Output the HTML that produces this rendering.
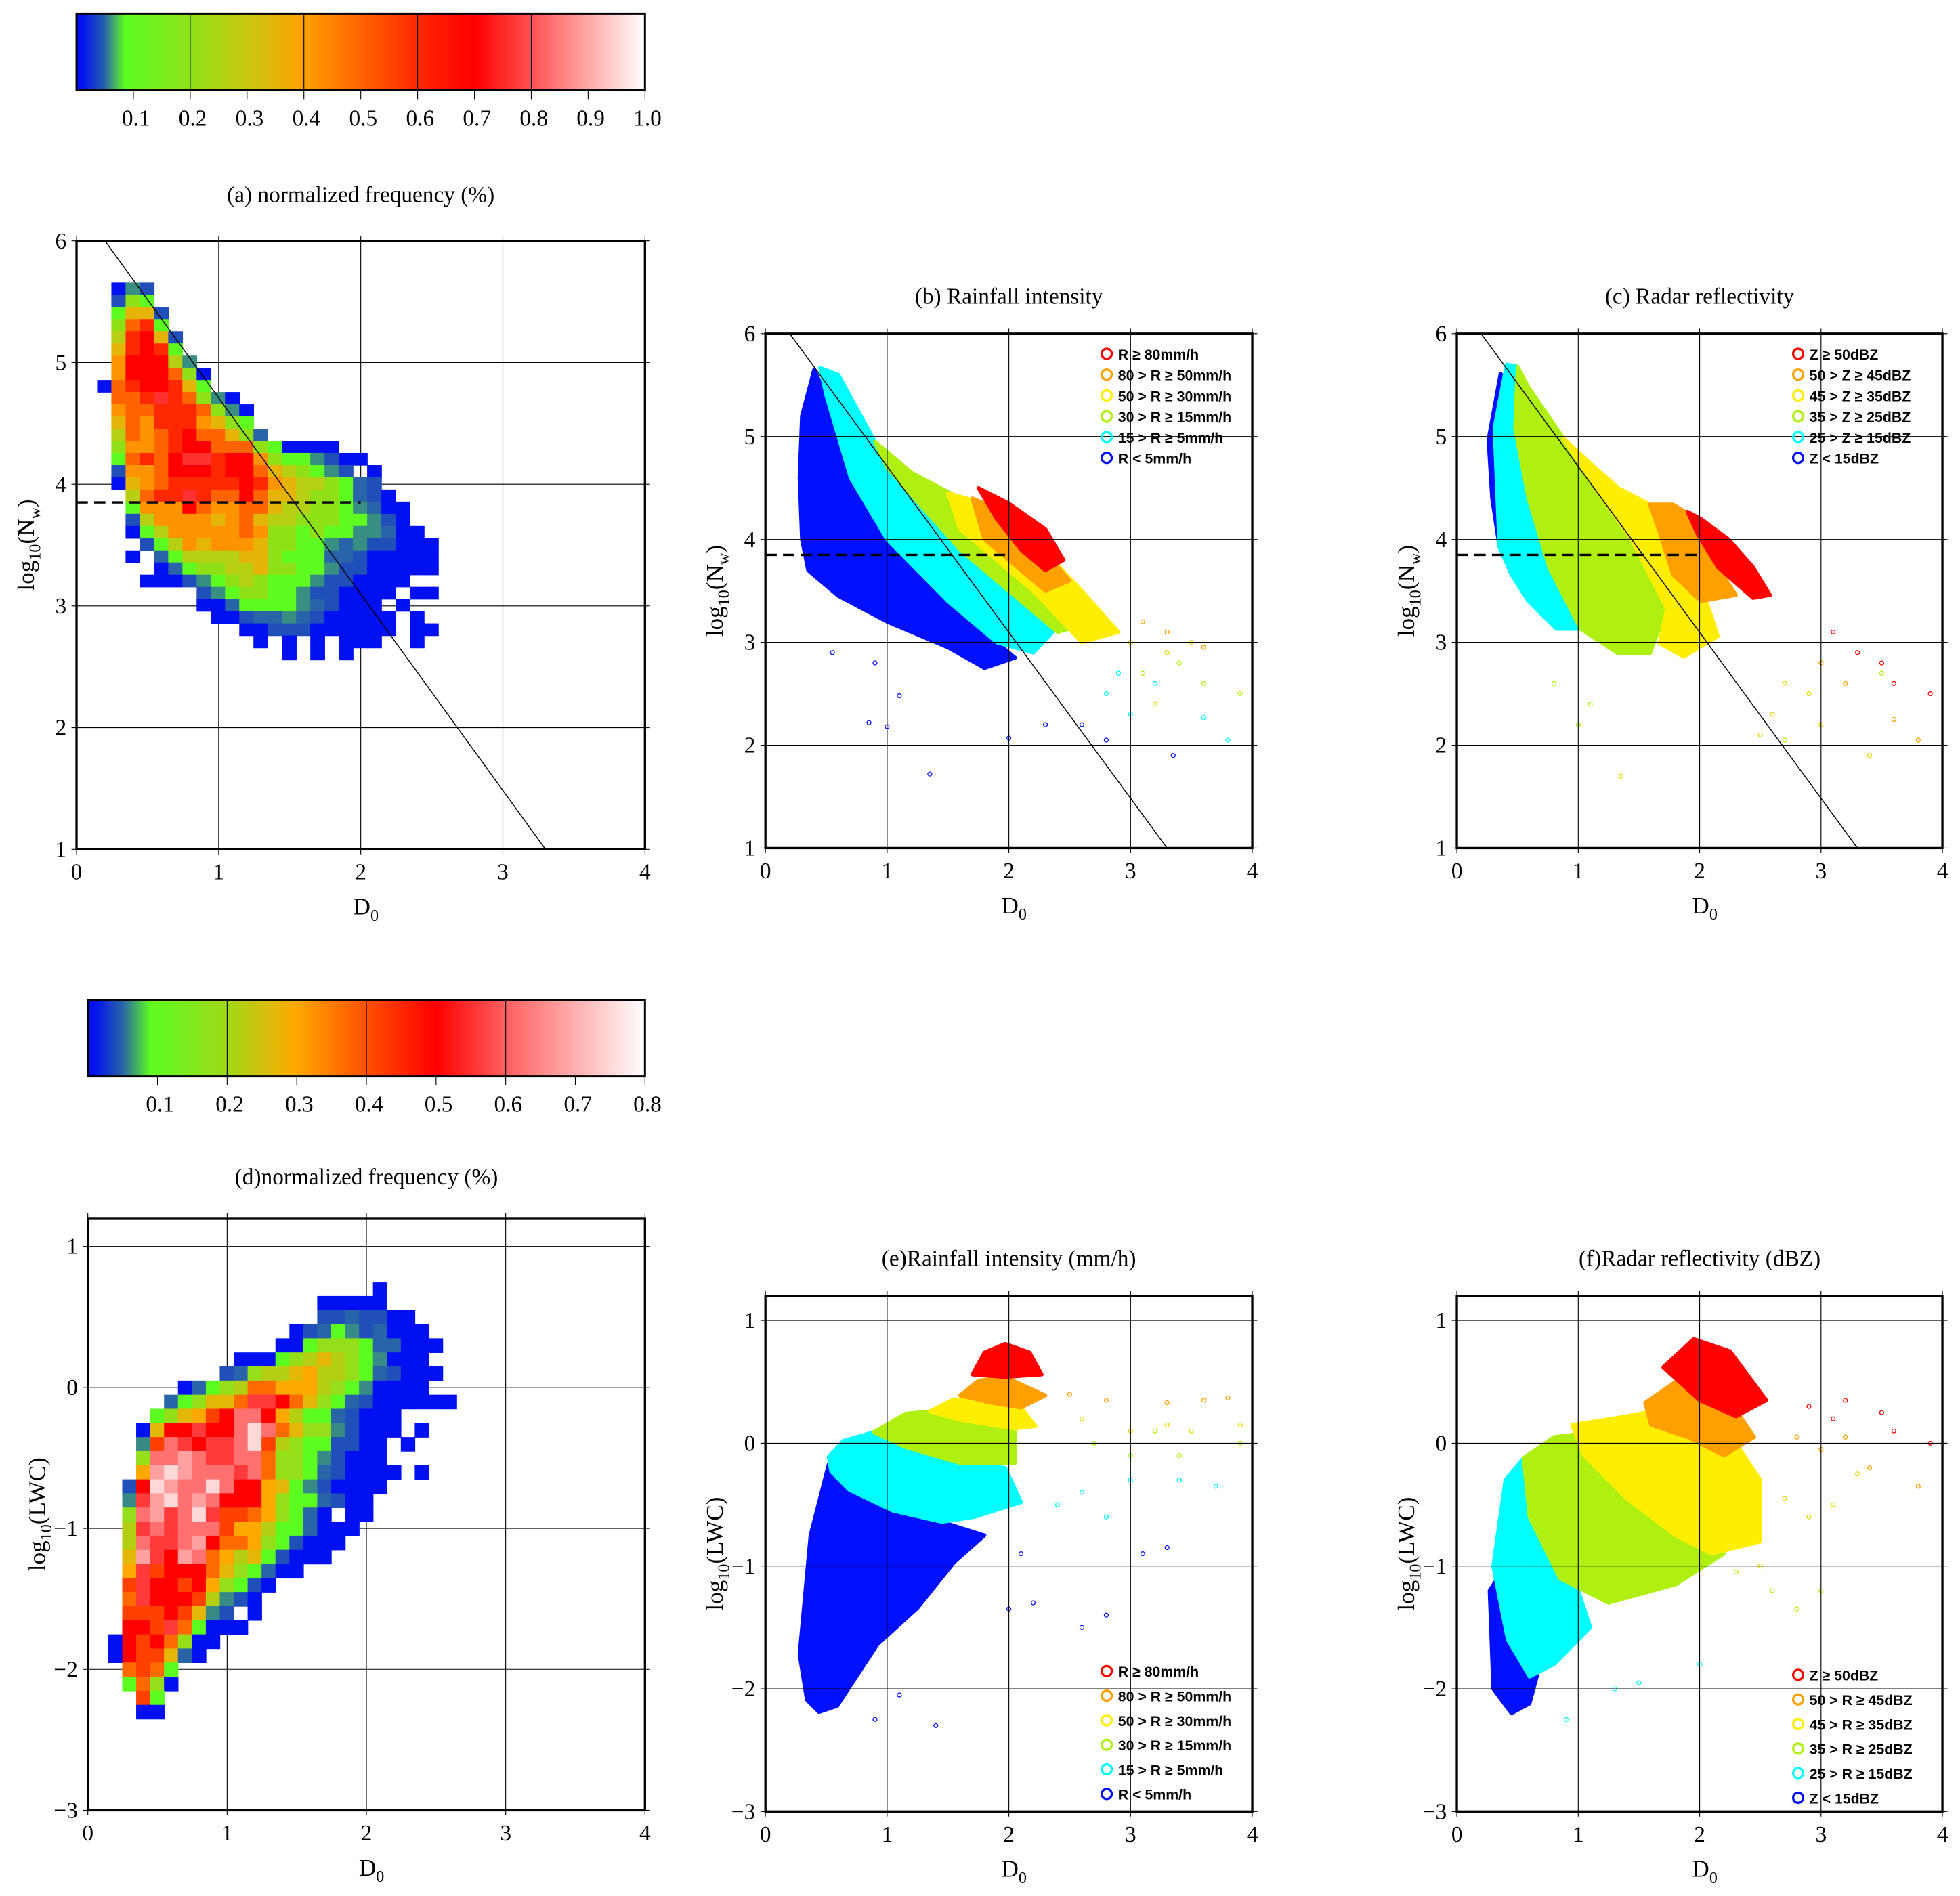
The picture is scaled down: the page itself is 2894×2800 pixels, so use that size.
<!DOCTYPE html>
<html><head><meta charset="utf-8">
<style>
html,body{margin:0;padding:0;background:#fff;}
svg{display:block;}
text{font-family:"Liberation Serif",serif;fill:#000;}
.leg{font-family:"Liberation Sans",sans-serif;font-weight:bold;font-size:11.5px;}
</style></head>
<body>
<svg id="fig" xmlns="http://www.w3.org/2000/svg" width="2894" height="2800" viewBox="0 0 1562 1511.3" preserveAspectRatio="none">
<defs>
<linearGradient id="cb1" x1="0" x2="1" y1="0" y2="0"></linearGradient>
<linearGradient id="cb2" x1="0" x2="1" y1="0" y2="0"></linearGradient>
</defs>
</svg>
<script>
// ---------- data ----------
const cb1Stops = [0.01,0.05,0.085,0.2,0.3,0.4,0.6,0.7,0.8,1.0];
const cb1Colors = ['#0010f0','#2a64a8','#5cfc20','#90e018','#c8c810','#ffa000','#ff2800','#ff0000','#ff5050','#ffffff'];
const cb2Stops = [0.01,0.05,0.09,0.2,0.3,0.4,0.5,0.6,0.8];
const cb2Colors = ['#0010f0','#2a64a8','#5cfc20','#a0d818','#ffa800','#ff5000','#ff0000','#ff6060','#ffffff'];
const cb1Ticks = [0.1,0.2,0.3,0.4,0.5,0.6,0.7,0.8,0.9,1.0];
const cb2Ticks = [0.1,0.2,0.3,0.4,0.5,0.6,0.7,0.8];
const xTicks = [0,1,2,3,4];
const nwTicks = [1,2,3,4,5,6];
const lwcTicks = [-3,-2,-1,0,1];

// heatmap (a): codes per cell, rows from log10(Nw)=5.657 downward, columns from D0=0.145
const aCodes = '123456789abcd';
const aValues = [0.01,0.04,0.05,0.06,0.09,0.2,0.27,0.35,0.42,0.5,0.6,0.7,0.76];
const aRows = [
" 142"," 265"," 5882"," 6ab5"," 7bc82"," 8bcb5"," 9ccc74"," 9ccca61","1abccb85",
" aabdba641"," 9aabbba641"," 8a9bbb9865"," 7a9abcaa863"," 699abccaaa651111",
" 5abacddbcc96554211"," 299acccbcca876542 1"," 189abbbbbcb98776532",
"  7abbdbaaca887665321","  5999ca99aa8776654311","  27999989a87766655421",
"  15799999a966565544311","   257989998665543422111","  1 35777788655533211111",
"    13566778665542211111","   1112456765554221111","       24566554221111 11",
"       1135555432111 1","        1123343211111 1","          11222111111 11",
"           1 1 1 111  1","             1 1 1"];
// heatmap (d): rows from log10(LWC)=0.748 downward, columns from D0=0.147
const dCodes = '123456789abcdefg';
const dValues = [0.01,0.04,0.05,0.06,0.09,0.18,0.22,0.27,0.3,0.37,0.42,0.5,0.56,0.62,0.68,0.75];
const dRows = [
"                   1","               11111","               2232211","             1235423111",
"            115666533111","         11156787654111","        2367789776532111",
"     13567aa99976541111","    35688addca86532111111","   5689bceec975532111",
"  18ccdccegea86642111 1","  4bedcddegb76552211 1","  6eefeddeea66542111",
"  9fgfeeedea665321111 1"," 2cgfeegecc985421111"," 4dfgefeccc96553211",
" 6efdegdbba96531 11"," 7dedeeeb997553111"," 7eddefcaa9652111"," 8fdcfea97852111",
" 9dbccca865311"," bdccbc96521"," adcccb7421"," bbbcb842 1"," ccbda5111","1cbca611",
"1cbb831"," aba5"," 5a61","  b5","  11"];

// scatter class colours
const classColors = ['#0010ff','#00ffff','#b0f010','#ffee00','#ffa000','#ff0000'];
// panel (b) class regions [D0, log10Nw]
const bBlue = [[0.4,5.65],[0.3,5.2],[0.28,4.6],[0.3,4.0],[0.35,3.7],[0.6,3.45],[1.0,3.2],[1.5,2.95],[1.8,2.75],[2.05,2.85],[1.8,3.1],[1.4,3.6],[1.0,4.0],[0.7,4.6],[0.5,5.4]];
const bCyan = [[0.45,5.67],[0.6,5.6],[0.9,4.95],[1.3,4.4],[1.7,3.9],[2.1,3.5],[2.4,3.15],[2.2,2.9],[1.9,3.0],[1.5,3.4],[1.0,4.0],[0.7,4.6],[0.5,5.4]];
const bGreen = [[0.9,4.95],[1.2,4.65],[1.6,4.4],[1.9,4.1],[2.3,3.7],[2.7,3.2],[2.4,3.1],[2.0,3.5],[1.6,3.9],[1.3,4.3],[1.0,4.7]];
const bYellow = [[1.5,4.45],[1.8,4.35],[2.2,4.0],[2.6,3.5],[2.9,3.1],[2.6,3.0],[2.2,3.5],[1.9,3.8],[1.6,4.1]];
const bOrange = [[1.7,4.4],[1.9,4.3],[2.2,4.0],[2.5,3.6],[2.3,3.5],[2.0,3.8],[1.8,4.0]];
const bRed = [[1.75,4.5],[2.0,4.35],[2.3,4.1],[2.45,3.8],[2.3,3.7],[2.1,3.9],[1.9,4.2]];
const bOutBlue = [[1.35,1.72],[1.0,2.18],[0.85,2.22],[2.0,2.07],[1.1,2.48],[2.3,2.2],[3.35,1.9],[0.55,2.9],[0.9,2.8],[2.6,2.2],[2.8,2.05]];
const bOutCyan = [[2.8,2.5],[3.2,2.6],[3.6,2.27],[3.8,2.05],[2.9,2.7],[3.0,2.3]];
const bOutGreen = [[3.9,2.5],[3.6,2.6],[3.4,2.8],[3.1,2.7]];
const bOutYellow = [[3.0,3.0],[3.3,2.9],[3.2,2.4],[3.5,3.0]];
const bOutOrange = [[3.6,2.95],[3.3,3.1],[3.1,3.2]];
// panel (c)
const cBlue = [[0.36,5.61],[0.26,4.97],[0.29,4.4],[0.35,3.93],[0.45,3.66],[0.59,3.66],[0.53,4.07],[0.42,4.74],[0.39,5.58]];
const cCyan = [[0.41,5.7],[0.5,5.68],[0.48,5.08],[0.59,4.4],[0.76,3.73],[1.02,3.13],[0.82,3.13],[0.59,3.4],[0.45,3.66],[0.35,3.93],[0.31,5.08]];
const cGreen = [[0.5,5.68],[0.59,5.48],[0.88,4.98],[1.16,4.47],[1.44,4.0],[1.73,3.33],[1.59,2.89],[1.33,2.89],[1.02,3.13],[0.76,3.73],[0.59,4.4],[0.48,5.08]];
const cYellow = [[0.88,4.98],[1.1,4.74],[1.33,4.5],[1.59,4.34],[1.73,4.07],[2.01,3.56],[2.15,3.06],[1.87,2.86],[1.67,2.99],[1.73,3.33],[1.44,4.0],[1.16,4.47]];
const cOrange = [[1.59,4.34],[1.78,4.34],[1.98,4.2],[2.15,3.73],[2.3,3.46],[2.01,3.4],[1.78,3.66],[1.67,4.07]];
const cRed = [[1.9,4.27],[2.01,4.2],[2.24,4.0],[2.44,3.73],[2.58,3.46],[2.44,3.43],[2.15,3.73],[1.98,4.06]];
const cOutYellow = [[2.9,2.5],[3.0,2.2],[2.6,2.3],[2.7,2.6],[3.4,1.9],[2.5,2.1],[1.35,1.7]];
const cOutGreen = [[1.0,2.2],[0.8,2.6],[1.1,2.4],[2.7,2.05],[3.5,2.7]];
const cOutRed = [[3.3,2.9],[3.6,2.6],[3.9,2.5],[3.1,3.1],[3.5,2.8]];
const cOutOrange = [[3.8,2.05],[3.6,2.25],[3.2,2.6],[3.0,2.8]];
// panel (e) [D0, log10LWC]
const eBlue = [[0.52,-0.17],[0.37,-0.75],[0.28,-1.72],[0.34,-2.09],[0.44,-2.19],[0.59,-2.14],[0.92,-1.64],[1.25,-1.34],[1.55,-0.97],[1.8,-0.75],[1.45,-0.64],[1.05,-0.55],[0.69,-0.38]];
const eCyan = [[0.52,-0.11],[0.64,0.02],[0.89,0.09],[1.15,-0.03],[1.6,-0.16],[1.97,-0.2],[2.1,-0.48],[1.72,-0.6],[1.45,-0.64],[1.05,-0.55],[0.69,-0.38],[0.54,-0.23]];
const eGreen = [[0.89,0.09],[1.15,0.24],[1.35,0.26],[1.6,0.19],[2.05,0.12],[2.05,-0.16],[1.6,-0.16],[1.15,-0.03]];
const eYellow = [[1.35,0.26],[1.55,0.36],[1.85,0.34],[2.1,0.29],[2.22,0.14],[2.05,0.12],[1.6,0.19]];
const eOrange = [[1.6,0.39],[1.75,0.51],[1.97,0.54],[2.3,0.39],[2.1,0.29],[1.85,0.33]];
const eRed = [[1.7,0.56],[1.8,0.74],[1.97,0.81],[2.17,0.74],[2.27,0.56],[1.97,0.54]];
const eOutBlue = [[2.1,-0.9],[2.0,-1.35],[2.2,-1.3],[2.6,-1.5],[1.4,-2.3],[3.1,-0.9],[2.8,-1.4],[3.3,-0.85],[1.1,-2.05],[0.9,-2.25]];
const eOutCyan = [[2.4,-0.5],[2.6,-0.4],[3.0,-0.3],[3.4,-0.3],[3.7,-0.35],[2.8,-0.6]];
const eOutGreen = [[2.7,0.0],[3.0,-0.1],[3.4,-0.1],[3.9,0.0],[3.2,0.1]];
const eOutYellow = [[2.6,0.2],[3.0,0.1],[3.5,0.1],[3.9,0.15],[3.3,0.15]];
const eOutOrange = [[2.8,0.35],[3.3,0.33],[3.6,0.35],[3.8,0.37],[2.5,0.4]];
// panel (f)
const fBlue = [[0.27,-1.2],[0.4,-1.0],[0.55,-1.3],[0.7,-1.75],[0.6,-2.12],[0.45,-2.2],[0.3,-2.0]];
const fCyan = [[0.4,-0.3],[0.55,-0.12],[0.7,-0.6],[1.0,-1.2],[1.1,-1.5],[0.8,-1.8],[0.6,-1.9],[0.42,-1.6],[0.3,-1.0]];
const fGreen = [[0.55,-0.12],[0.8,0.05],[1.2,0.1],[1.6,0.0],[2.0,-0.4],[2.2,-0.9],[1.8,-1.15],[1.25,-1.3],[0.85,-1.1],[0.6,-0.6]];
const fYellow = [[0.95,0.15],[1.4,0.22],[1.8,0.3],[2.2,0.15],[2.5,-0.3],[2.5,-0.8],[2.1,-0.9],[1.8,-0.75],[1.4,-0.45],[1.05,-0.1]];
const fOrange = [[1.55,0.33],[1.8,0.5],[2.2,0.42],[2.45,0.05],[2.2,-0.1],[1.9,0.05],[1.6,0.15]];
const fRed = [[1.7,0.62],[1.95,0.85],[2.25,0.75],[2.55,0.35],[2.3,0.22],[2.0,0.35]];
const fOutRed = [[2.9,0.3],[3.2,0.35],[3.5,0.25],[3.9,0.0],[3.1,0.2],[3.6,0.1]];
const fOutOrange = [[2.8,0.05],[3.0,-0.05],[3.4,-0.2],[3.8,-0.35],[3.2,0.05]];
const fOutYellow = [[2.7,-0.45],[2.9,-0.6],[3.1,-0.5],[2.5,-1.0],[3.3,-0.25]];
const fOutGreen = [[2.6,-1.2],[2.8,-1.35],[3.0,-1.2],[2.3,-1.05]];
const fOutCyan = [[1.3,-2.0],[1.5,-1.95],[2.0,-1.8],[0.9,-2.25]];

const legendR = ['R ≥ 80mm/h','80 > R ≥ 50mm/h','50 > R ≥ 30mm/h','30 > R ≥ 15mm/h','15 > R ≥ 5mm/h','R < 5mm/h'];
const legendZ = ['Z ≥ 50dBZ','50 > Z ≥ 45dBZ','45 > Z ≥ 35dBZ','35 > Z ≥ 25dBZ','25 > Z ≥ 15dBZ','Z < 15dBZ'];
const legendF = ['Z ≥ 50dBZ','50 > R ≥ 45dBZ','45 > R ≥ 35dBZ','35 > R ≥ 25dBZ','25 > R ≥ 15dBZ','Z < 15dBZ'];
const legendColors = ['#ff0000','#ffa000','#ffee00','#b0f010','#00ffff','#0010ff'];

// ---------- helpers ----------
const NS = 'http://www.w3.org/2000/svg';
const svg = document.getElementById('fig');
function mk(tag, attrs, parent) {
  const e = document.createElementNS(NS, tag);
  for (const k in attrs) e.setAttribute(k, attrs[k]);
  (parent || svg).appendChild(e);
  return e;
}
function hex(c){return [parseInt(c.substr(1,2),16),parseInt(c.substr(3,2),16),parseInt(c.substr(5,2),16)];}
function cmap(v, stops, cols) {
  if (v <= stops[0]) return cols[0];
  for (let i = 1; i < stops.length; i++) {
    if (v <= stops[i]) {
      const t = (v - stops[i-1]) / (stops[i] - stops[i-1]);
      const a = hex(cols[i-1]), b = hex(cols[i]);
      return 'rgb(' + a.map((x,j)=>Math.round(x+(b[j]-x)*t)).join(',') + ')';
    }
  }
  return cols[cols.length-1];
}
function makeAxis(P) {
  P.sx = v => P.x0 + (v - P.xmin) / (P.xmax - P.xmin) * (P.x1 - P.x0);
  P.sy = v => P.yb - (v - P.ymin) / (P.ymax - P.ymin) * (P.yb - P.yt);
  return P;
}
function fmt(v){return v < 0 ? '\u2212' + (-v) : String(v);}

// ---------- colorbars ----------
function colorbar(id, gradId, stops, cols, vmin, vmax, x0, x1, y0, y1, ticks, dividers) {
  const g = mk('g', {});
  
  
  const grad = document.getElementById(gradId);
  stops.forEach((s, i) => {
    const st = mk('stop', {offset: ((s - vmin) / (vmax - vmin)).toFixed(4), 'stop-color': cols[i]}, grad);
    
    
  });
  const sx = v => x0 + (v - vmin) / (vmax - vmin) * (x1 - x0);
  const r = mk('rect', {x: x0, y: y0, width: x1 - x0, height: y1 - y0, fill: 'url(#' + gradId + ')'}, g);
  
  
  dividers.forEach(d => {
    const l = mk('line', {x1: sx(d), x2: sx(d), y1: y0, y2: y1, stroke: '#000', 'stroke-width': 0.6}, g);
    
    
  });
  const fr = mk('rect', {x: x0, y: y0, width: x1 - x0, height: y1 - y0, fill: 'none', stroke: '#000', 'stroke-width': 1.6}, g);
  
  
  ticks.forEach(t => {
    const l = mk('line', {x1: sx(t), x2: sx(t), y1: y1, y2: y1 + 7, stroke: '#000', 'stroke-width': 0.6}, g);
    
    
    const tx = mk('text', {x: sx(t) + 2, y: y1 + 28, 'text-anchor': 'middle', 'font-size': 18}, g);
    tx.textContent = t.toFixed(1);
    
    
  });
}
colorbar('colorbar-top', 'cb1', cb1Stops, cb1Colors, 0, 1.0, 61, 514, 11, 72, cb1Ticks, [0.2,0.4,0.6,0.8]);
colorbar('colorbar-bottom', 'cb2', cb2Stops, cb2Colors, 0, 0.8, 70, 514, 797, 858, cb2Ticks, [0.2,0.4,0.6]);

// ---------- panels ----------
const panels = {
  a: makeAxis({x0:61, x1:514, yt:192, yb:677, xmin:0, xmax:4, ymin:1, ymax:6}),
  b: makeAxis({x0:610, x1:998, yt:266, yb:676, xmin:0, xmax:4, ymin:1, ymax:6}),
  c: makeAxis({x0:1161, x1:1548, yt:266, yb:676, xmin:0, xmax:4, ymin:1, ymax:6}),
  d: makeAxis({x0:70, x1:514, yt:971, yb:1443, xmin:0, xmax:4, ymin:-3, ymax:1.2}),
  e: makeAxis({x0:610, x1:998, yt:1033, yb:1444, xmin:0, xmax:4, ymin:-3, ymax:1.2}),
  f: makeAxis({x0:1161, x1:1548, yt:1033, yb:1444, xmin:0, xmax:4, ymin:-3, ymax:1.2})
};

function heatmap(P, name, rows, codes, values, xStart, yTop, stops, cols) {
  const g = mk('g', {});
  
  
  rows.forEach((row, r) => {
    for (let c = 0; c < row.length; c++) {
      const k = codes.indexOf(row[c]);
      if (k < 0) continue;
      const xa = P.sx(xStart + c * 0.1), xb = P.sx(xStart + (c + 1) * 0.1);
      const ya = P.sy(yTop - r * 0.1), yb = P.sy(yTop - (r + 1) * 0.1);
      const cell = mk('rect', {x: xa.toFixed(2), y: ya.toFixed(2), width: (xb - xa + 0.4).toFixed(2), height: (yb - ya + 0.4).toFixed(2), fill: cmap(values[k], stops, cols)}, g);
      
      
    }
  });
}

function region(P, pts, color, name) {
  const d = pts.map((p, i) => (i ? 'L' : 'M') + P.sx(p[0]).toFixed(1) + ',' + P.sy(p[1]).toFixed(1)).join(' ') + 'Z';
  const e = mk('path', {d: d, fill: color, stroke: color, 'stroke-width': 3, 'stroke-linejoin': 'round'});
  
  
}
function points(P, pts, color, name) {
  pts.forEach(p => {
    const e = mk('circle', {cx: P.sx(p[0]).toFixed(1), cy: P.sy(p[1]).toFixed(1), r: 1.6, fill: 'none', stroke: color, 'stroke-width': 0.7});
    
    
  });
}

function grid(P, name, yTicks) {
  const g = mk('g', {});
  
  
  xTicks.forEach(t => {
    const l = mk('line', {x1: P.sx(t), x2: P.sx(t), y1: P.yt - 4, y2: P.yb + 4, stroke: '#000', 'stroke-width': 0.6}, g);
    
    
  });
  yTicks.forEach(t => {
    const l = mk('line', {x1: P.x0 - 4, x2: P.x1 + 4, y1: P.sy(t), y2: P.sy(t), stroke: '#000', 'stroke-width': 0.6}, g);
    
    
  });
}
function frameAndLabels(P, name, yTicks, title, titleY, ylab, ysub) {
  const fr = mk('rect', {x: P.x0, y: P.yt, width: P.x1 - P.x0, height: P.yb - P.yt, fill: 'none', stroke: '#000', 'stroke-width': 1.8});
  
  
  xTicks.forEach(t => {
    const tx = mk('text', {x: P.sx(t), y: P.yb + 24, 'text-anchor': 'middle', 'font-size': 18});
    tx.textContent = fmt(t);
    
    
  });
  yTicks.forEach(t => {
    const tx = mk('text', {x: P.x0 - 8, y: P.sy(t) + 6, 'text-anchor': 'end', 'font-size': 18});
    tx.textContent = fmt(t);
    
    
  });
  const cx = (P.x0 + P.x1) / 2;
  const xl = mk('text', {x: cx - 6, y: P.yb + 52, 'font-size': 19});
  xl.innerHTML = 'D<tspan font-size="13" dy="5">0</tspan>';
  
  
  const cy = (P.yt + P.yb) / 2;
  const yl = mk('text', {x: 0, y: 0, 'text-anchor': 'middle', 'font-size': 19, transform: 'translate(' + (P.x0 - 34) + ',' + cy + ') rotate(-90)'});
  yl.innerHTML = 'log<tspan font-size="13" dy="5">10</tspan><tspan dy="-5">(' + ylab + '</tspan>' + (ysub ? '<tspan font-size="13" dy="5">' + ysub + '</tspan><tspan dy="-5">)</tspan>' : ')');
  
  
  const tt = mk('text', {x: cx, y: titleY, 'text-anchor': 'middle', 'font-size': 18});
  tt.textContent = title;
  
  
}
function refLines(P, dashed) {
  const l = mk('line', {x1: P.sx(0.2), y1: P.sy(6), x2: P.sx(3.3), y2: P.sy(1), stroke: '#000', 'stroke-width': 0.8});
  
  
  if (dashed) {
    const d = mk('line', {x1: P.x0, y1: P.sy(3.85), x2: P.sx(2.0), y2: P.sy(3.85), stroke: '#000', 'stroke-width': 1.8, 'stroke-dasharray': '9,5'});
    
    
  }
}
function legend(x, y0, dy, labels, name) {
  const g = mk('g', {});
  
  
  labels.forEach((s, i) => {
    const c = mk('circle', {cx: x, cy: y0 + i * dy, r: 4, fill: 'none', stroke: legendColors[i], 'stroke-width': 1.8}, g);
    
    
    const t = mk('text', {x: x + 9, y: y0 + i * dy + 4.5, class: 'leg'}, g);
    t.textContent = s;
    
    
  });
}

// panel a
grid(panels.a, 'panel-a', nwTicks);
heatmap(panels.a, 'panel-a-heatmap', aRows, aCodes, aValues, 0.145, 5.657, cb1Stops, cb1Colors);
refLines(panels.a, true);
frameAndLabels(panels.a, 'panel-a', nwTicks, '(a) normalized frequency (%)', 161, 'N', 'w');

// panel b
[[bBlue,0],[bCyan,1],[bGreen,2],[bYellow,3],[bOrange,4],[bRed,5]].forEach(z => region(panels.b, z[0], classColors[z[1]], 'panel-b-class-region'));
points(panels.b, bOutBlue, classColors[0], 'panel-b-point');
points(panels.b, bOutCyan, classColors[1], 'panel-b-point');
points(panels.b, bOutGreen, classColors[2], 'panel-b-point');
points(panels.b, bOutYellow, '#e8d800', 'panel-b-point');
points(panels.b, bOutOrange, classColors[4], 'panel-b-point');
grid(panels.b, 'panel-b', nwTicks);
refLines(panels.b, true);
frameAndLabels(panels.b, 'panel-b', nwTicks, '(b) Rainfall intensity', 242, 'N', 'w');
legend(882, 282, 16.6, legendR, 'panel-b-legend');

// panel c
[[cBlue,0],[cCyan,1],[cGreen,2],[cYellow,3],[cOrange,4],[cRed,5]].forEach(z => region(panels.c, z[0], classColors[z[1]], 'panel-c-class-region'));
points(panels.c, cOutYellow, '#e8d800', 'panel-c-point');
points(panels.c, cOutGreen, classColors[2], 'panel-c-point');
points(panels.c, cOutRed, classColors[5], 'panel-c-point');
points(panels.c, cOutOrange, classColors[4], 'panel-c-point');
grid(panels.c, 'panel-c', nwTicks);
refLines(panels.c, true);
frameAndLabels(panels.c, 'panel-c', nwTicks, '(c) Radar reflectivity', 242, 'N', 'w');
legend(1433, 282, 16.6, legendZ, 'panel-c-legend');

// panel d
grid(panels.d, 'panel-d', lwcTicks);
heatmap(panels.d, 'panel-d-heatmap', dRows, dCodes, dValues, 0.147, 0.748, cb2Stops, cb2Colors);
frameAndLabels(panels.d, 'panel-d', lwcTicks, '(d)normalized frequency (%)', 944, 'LWC', '');

// panel e
[[eBlue,0],[eCyan,1],[eGreen,2],[eYellow,3],[eOrange,4],[eRed,5]].forEach(z => region(panels.e, z[0], classColors[z[1]], 'panel-e-class-region'));
points(panels.e, eOutBlue, classColors[0], 'panel-e-point');
points(panels.e, eOutCyan, classColors[1], 'panel-e-point');
points(panels.e, eOutGreen, classColors[2], 'panel-e-point');
points(panels.e, eOutYellow, '#e8d800', 'panel-e-point');
points(panels.e, eOutOrange, classColors[4], 'panel-e-point');
grid(panels.e, 'panel-e', lwcTicks);
frameAndLabels(panels.e, 'panel-e', lwcTicks, '(e)Rainfall intensity (mm/h)', 1009, 'LWC', '');
legend(882, 1332, 19.6, legendR, 'panel-e-legend');

// panel f
[[fBlue,0],[fCyan,1],[fGreen,2],[fYellow,3],[fOrange,4],[fRed,5]].forEach(z => region(panels.f, z[0], classColors[z[1]], 'panel-f-class-region'));
points(panels.f, fOutRed, classColors[5], 'panel-f-point');
points(panels.f, fOutOrange, classColors[4], 'panel-f-point');
points(panels.f, fOutYellow, '#e8d800', 'panel-f-point');
points(panels.f, fOutGreen, classColors[2], 'panel-f-point');
points(panels.f, fOutCyan, classColors[1], 'panel-f-point');
grid(panels.f, 'panel-f', lwcTicks);
frameAndLabels(panels.f, 'panel-f', lwcTicks, '(f)Radar reflectivity (dBZ)', 1009, 'LWC', '');
legend(1433, 1335, 19.6, legendF, 'panel-f-legend');
</script>
</body></html>
